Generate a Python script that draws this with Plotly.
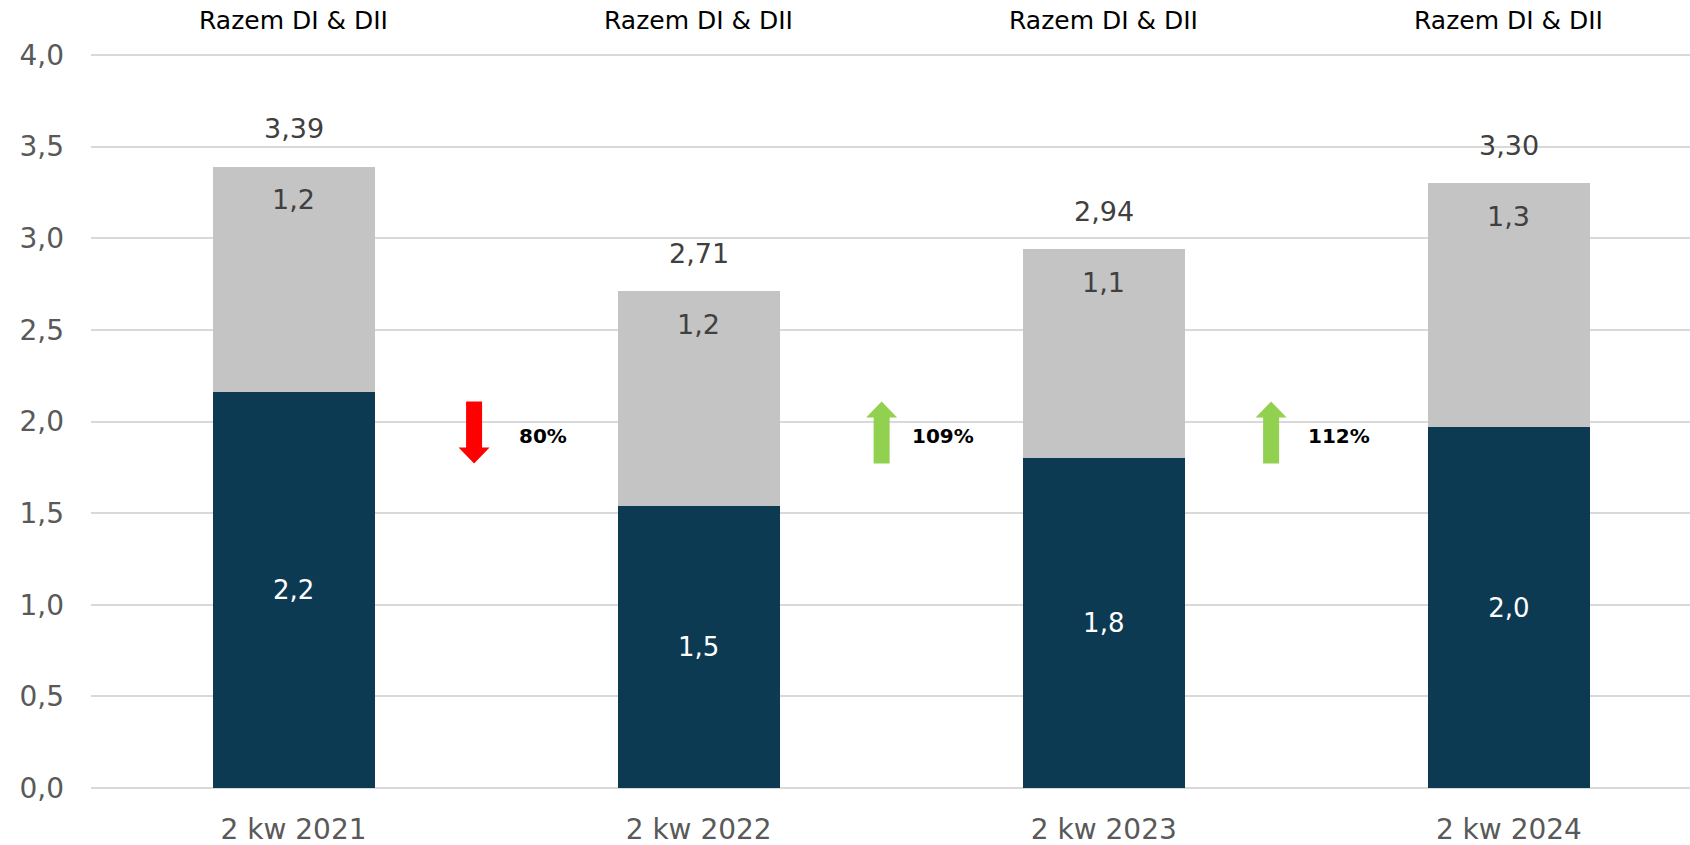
import plotly.graph_objects as go

# values (mln)
quarters = ["2 kw 2021", "2 kw 2022", "2 kw 2023", "2 kw 2024"]
di_values = [2.16, 1.54, 1.80, 1.97]
dii_values = [1.23, 1.17, 1.14, 1.33]
change_pct = [80, 109, 112]
top_label = "Razem DI & DII"

totals = [round(a + b, 2) for a, b in zip(di_values, dii_values)]

FONT = "DejaVu Sans"
DARK = "#0D3A53"
GREY = "#C4C4C4"
GRID = "#D9D9D9"


def pl_num(v, digits):
    return f"{v:.{digits}f}".replace(".", ",")


def arrow_path(up):
    # block arrow in pixels around its anchor: shaft 16px, head 31px, 62px long
    s = 1 if up else -1
    pts = [(-8, -31), (8, -31), (8, 15), (15.5, 15), (0, 31), (-15.5, 15), (-8, 15)]
    return "M " + " L ".join(f"{x},{s * y}" for x, y in pts) + " Z"


fig = go.Figure()

fig.add_trace(
    go.Bar(
        x=quarters,
        y=di_values,
        name="DI",
        marker=dict(color=DARK, line=dict(width=0)),
        width=0.4,
        text=[pl_num(v, 1) for v in di_values],
        textposition="inside",
        insidetextanchor="middle",
        textfont=dict(family=FONT, size=26, color="white"),
        hoverinfo="skip",
    )
)
fig.add_trace(
    go.Bar(
        x=quarters,
        y=dii_values,
        name="DII",
        marker=dict(color=GREY, line=dict(width=0)),
        width=0.4,
        hoverinfo="skip",
    )
)

annotations = []
for i, q in enumerate(quarters):
    # header above each column
    annotations.append(dict(
        x=i, y=1, xref="x", yref="paper", yshift=31, yanchor="middle",
        text=top_label, showarrow=False, borderpad=0,
        font=dict(family=FONT, size=25, color="#000000"),
    ))
    # total on top of the stack
    annotations.append(dict(
        x=i, y=totals[i], xref="x", yref="y", yshift=38, yanchor="middle",
        text=pl_num(totals[i], 2), showarrow=False,
        font=dict(family=FONT, size=27, color="#404040"),
    ))
    # DII label near the top of the grey segment
    annotations.append(dict(
        x=i, y=totals[i], xref="x", yref="y", yshift=-33, yanchor="middle",
        text=pl_num(dii_values[i], 1), showarrow=False,
        font=dict(family=FONT, size=27, color="#404040"),
    ))

arrow_x = [0.4456, 1.4516, 2.413]
arrow_y = 1.94
text_x = [0.616, 1.604, 2.581]
shapes = []
for i, pct in enumerate(change_pct):
    up = pct >= 100
    color = "#92D050" if up else "#FF0000"
    shapes.append(dict(
        type="path", xref="x", yref="y",
        xsizemode="pixel", ysizemode="pixel",
        xanchor=arrow_x[i], yanchor=arrow_y,
        path=arrow_path(up),
        fillcolor=color, line=dict(width=0),
    ))
    annotations.append(dict(
        x=text_x[i], y=1.921, xref="x", yref="y",
        text=f"<b>{pct}%</b>", showarrow=False,
        font=dict(family=FONT, size=20, color="#000000"),
    ))

fig.update_layout(
    barmode="stack",
    width=1690,
    height=845,
    paper_bgcolor="white",
    plot_bgcolor="white",
    separators=", ",
    showlegend=False,
    hovermode=False,
    margin=dict(l=91, r=0, t=51, b=57),
    font=dict(family=FONT),
    xaxis=dict(
        range=[-0.5, 3.447],
        showgrid=False,
        showline=False,
        tickfont=dict(family=FONT, size=28, color="#595959"),
        ticklabelstandoff=22,
        fixedrange=True,
    ),
    yaxis=dict(
        range=[0, 4.022],
        dtick=0.5,
        tickformat=".1f",
        showgrid=True,
        gridcolor=GRID,
        gridwidth=1.5,
        zeroline=True,
        zerolinecolor=GRID,
        zerolinewidth=1.5,
        showline=False,
        tickfont=dict(family=FONT, size=28, color="#595959"),
        ticklabelstandoff=26,
        fixedrange=True,
    ),
    shapes=shapes,
    annotations=annotations,
)

# drop the default page margin so the chart sits flush in the window
fig.write_html(
    "out.html",
    config={"displayModeBar": False},
    post_script="document.body.style.margin = '0';",
)
